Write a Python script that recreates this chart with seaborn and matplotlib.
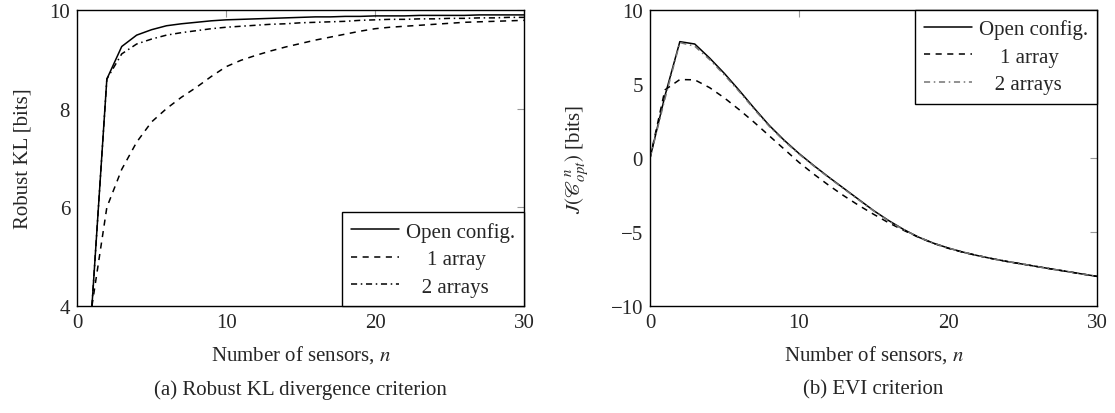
import numpy as np
import pandas as pd
import matplotlib
matplotlib.use("Agg")
import matplotlib.pyplot as plt
import seaborn as sns

# --- data ---
n_kl = list(range(1, 31))
kl_open = [4.0, 8.6, 9.26, 9.49, 9.6, 9.68, 9.72, 9.75, 9.78, 9.8,
           9.81, 9.82, 9.83, 9.84, 9.85, 9.86, 9.86, 9.87, 9.87, 9.88,
           9.88, 9.88, 9.89, 9.89, 9.89, 9.89, 9.9, 9.9, 9.9, 9.9]
kl_1arr = [4.0, 6.0, 6.77, 7.32, 7.73, 8.0, 8.23, 8.43, 8.65, 8.85,
           8.98, 9.08, 9.17, 9.25, 9.32, 9.39, 9.45, 9.51, 9.57, 9.62,
           9.65, 9.67, 9.69, 9.71, 9.73, 9.75, 9.76, 9.77, 9.78, 9.79]
kl_2arr = [4.0, 8.6, 9.11, 9.31, 9.41, 9.49, 9.54, 9.58, 9.62, 9.65,
           9.67, 9.69, 9.71, 9.72, 9.74, 9.75, 9.76, 9.77, 9.79, 9.8,
           9.81, 9.81, 9.82, 9.82, 9.83, 9.83, 9.84, 9.84, 9.85, 9.85]

n_evi = list(range(0, 31))
evi_open = [0.0, 4.2, 7.86, 7.7, 6.75, 5.7, 4.55, 3.35, 2.2, 1.2,
            0.3, -0.52, -1.3, -2.05, -2.8, -3.55, -4.22, -4.82, -5.34, -5.75,
            -6.08, -6.36, -6.6, -6.81, -7.0, -7.17, -7.34, -7.51, -7.67, -7.84, -8.0]
evi_1arr = [0.0, 4.6, 5.3, 5.28, 4.75, 4.05, 3.25, 2.4, 1.5, 0.6,
            -0.3, -1.1, -1.85, -2.55, -3.2, -3.8, -4.37, -4.88, -5.35, -5.76,
            -6.1, -6.37, -6.6, -6.81, -7.0, -7.17, -7.34, -7.51, -7.67, -7.84, -8.0]
evi_2arr = [0.0, 4.0, 7.8, 7.55, 6.65, 5.6, 4.47, 3.28, 2.14, 1.15,
            0.26, -0.55, -1.33, -2.08, -2.83, -3.57, -4.24, -4.83, -5.34, -5.75,
            -6.08, -6.36, -6.6, -6.81, -7.0, -7.17, -7.34, -7.51, -7.67, -7.84, -8.0]

# legend labels (leading spaces roughly centre the shorter ones, as in the original)
labels = ["Open config.", "    1 array", "   2 arrays"]

sns.set_theme(style="white")
plt.rcParams["font.family"] = ["Liberation Serif", "DejaVu Serif"]
plt.rcParams["mathtext.fontset"] = "stix"
fs = 15

fig = plt.figure(figsize=(11.15, 4.14), dpi=100)
ax1 = fig.add_axes([0.0691, 0.2585, 0.4009, 0.715])
ax2 = fig.add_axes([0.583, 0.2585, 0.4009, 0.715])

dash = (0, (4, 3.6))
dashdot = (0, (4, 2.4, 1, 2.4))
lw = 1.1


def draw(ax, n, series, dd_color):
    styles = ["-", dash, dashdot]
    colors = ["black", "black", dd_color]
    for ys, lab, ls, c in zip(series, labels, styles, colors):
        d = pd.DataFrame({"n": n, "v": ys})
        sns.lineplot(data=d, x="n", y="v", ax=ax, color=c, linestyle=ls,
                     linewidth=lw, label=lab)


draw(ax1, n_kl, [kl_open, kl_1arr, kl_2arr], "black")
draw(ax2, n_evi, [evi_open, evi_1arr, evi_2arr], "0.45")

ax1.set_xlim(0, 30)
ax1.set_ylim(4, 10)
ax1.set_xticks([0, 10, 20, 30])
ax1.set_yticks([4, 6, 8, 10])
ax1.set_ylabel("Robust KL [bits]", fontsize=fs, labelpad=12)

ax2.set_xlim(0, 30)
ax2.set_ylim(-10, 10)
ax2.set_xticks([0, 10, 20, 30])
ax2.set_yticks([-10, -5, 0, 5, 10])
ax2.set_ylabel(r"$J(\mathscr{C}^{\,n}_{opt})$ [bits]", fontsize=fs, labelpad=14)

for ax in (ax1, ax2):
    ax.set_xlabel("Number of sensors, $n$", fontsize=fs, labelpad=8)
    ax.tick_params(direction="in", length=5, width=0.8, color="0.6",
                   top=True, right=True, labelsize=fs, pad=5)
    for s in ax.spines.values():
        s.set_color("black")
        s.set_linewidth(1.0)

leg_kw = dict(borderaxespad=0, fancybox=False, edgecolor="black",
              framealpha=1, fontsize=fs, handlelength=2.3, handletextpad=0.3,
              borderpad=0.45, labelspacing=0.38)
leg1 = ax1.legend(loc="lower right", **leg_kw)
leg2 = ax2.legend(loc="upper right", **leg_kw)
for leg in (leg1, leg2):
    leg.get_frame().set_linewidth(1.0)

fig.text(0.0691 + 0.4009 / 2, 1 - 390 / 414, "(a) Robust KL divergence criterion",
         ha="center", va="center", fontsize=fs)
fig.text(0.583 + 0.4009 / 2, 1 - 390 / 414, "(b) EVI criterion",
         ha="center", va="center", fontsize=fs)

fig.savefig("out.png", dpi=100)
